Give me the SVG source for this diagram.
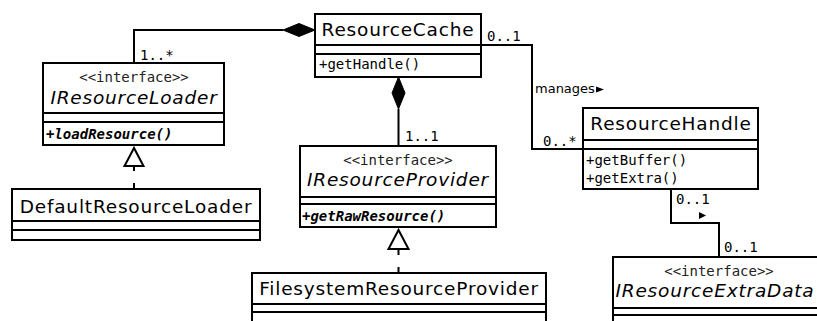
<svg xmlns="http://www.w3.org/2000/svg" width="817" height="321" viewBox="0 0 817 321">
<style>
.box{fill:#fff;stroke:#000;stroke-width:2}
.sep{stroke:#000;stroke-width:2}
.name{font-family:"DejaVu Sans",sans-serif;font-size:18.5px;letter-spacing:0.8px;text-anchor:middle;fill:#000}
.iname{font-family:"DejaVu Sans",sans-serif;font-size:18.5px;letter-spacing:0.8px;font-style:italic;text-anchor:middle;fill:#000}
.st{font-family:"DejaVu Sans Mono",monospace;font-size:14px;text-anchor:middle;fill:#222}
.op{font-family:"DejaVu Sans Mono",monospace;font-size:14px;fill:#000}
.aop{font-family:"DejaVu Sans Mono",monospace;font-size:14px;font-weight:bold;font-style:italic;fill:#000}
.lbl{font-family:"DejaVu Sans Mono",monospace;font-size:14px;fill:#000}
.as{font-family:"DejaVu Sans",sans-serif;font-size:13px;fill:#000}
.ln{fill:none;stroke:#000;stroke-width:2}
.dia{fill:#000;stroke:#000;stroke-width:1}
.tri{fill:#fff;stroke:#000;stroke-width:2}
</style>
<rect width="817" height="321" fill="#fff"/>
<g id="connectors">
  <polyline class="ln" points="134,63 134,30 283,30"/>
  <polygon class="dia" points="283,30 299,23.5 315,30 299,36.5"/>
  <text class="lbl" x="140" y="60">1..*</text>
  <line class="ln" x1="398.5" y1="109" x2="398.5" y2="146"/>
  <polygon class="dia" points="398.5,77 405,93 398.5,109 392,93"/>
  <text class="lbl" x="405" y="141">1..1</text>
  <polyline class="ln" points="481,45 532,45 532,149 583,149"/>
  <text class="lbl" x="487" y="41">0..1</text>
  <text class="as" x="535" y="93">manages</text>
  <polygon fill="#000" points="596,86.5 604,89.5 596,92.5"/>
  <text class="lbl" x="543" y="146">0..*</text>
  <polyline class="ln" points="671,189 671,223 719,223 719,257"/>
  <text class="lbl" x="676" y="204">0..1</text>
  <polygon fill="#000" points="699,212 706,215.5 699,219"/>
  <text class="lbl" x="724" y="252">0..1</text>
  <polygon class="tri" points="134,148 124.5,166 143.5,166"/>
  <line class="ln" x1="134" y1="166" x2="134" y2="189" stroke-dasharray="5 12 6"/>
  <polygon class="tri" points="398.5,230 388.5,249 408.5,249"/>
  <line class="ln" x1="398.5" y1="249" x2="398.5" y2="273" stroke-dasharray="6 12 6"/>
</g>
<g id="ResourceCache">
  <rect class="box" x="315" y="14" width="166" height="63"/>
  <line class="sep" x1="315" y1="45" x2="481" y2="45"/>
  <line class="sep" x1="315" y1="54" x2="481" y2="54"/>
  <text class="name" x="398" y="36">ResourceCache</text>
  <text class="op" x="319" y="69">+getHandle()</text>
</g>
<g id="IResourceLoader">
  <rect class="box" x="43" y="63" width="181" height="82"/>
  <line class="sep" x1="43" y1="113" x2="224" y2="113"/>
  <line class="sep" x1="43" y1="122" x2="224" y2="122"/>
  <text class="st" x="134" y="82">&lt;&lt;interface&gt;&gt;</text>
  <text class="iname" x="134" y="104">IResourceLoader</text>
  <text class="aop" x="46" y="139">+loadResource()</text>
</g>
<g id="DefaultResourceLoader">
  <rect class="box" x="12" y="189" width="248" height="51"/>
  <line class="sep" x1="12" y1="221" x2="260" y2="221"/>
  <line class="sep" x1="12" y1="230" x2="260" y2="230"/>
  <text class="name" x="136" y="213">DefaultResourceLoader</text>
</g>
<g id="IResourceProvider">
  <rect class="box" x="300" y="146" width="196" height="81"/>
  <line class="sep" x1="300" y1="197" x2="496" y2="197"/>
  <line class="sep" x1="300" y1="204" x2="496" y2="204"/>
  <text class="st" x="398" y="165">&lt;&lt;interface&gt;&gt;</text>
  <text class="iname" x="398" y="186">IResourceProvider</text>
  <text class="aop" x="302" y="221">+getRawResource()</text>
</g>
<g id="FilesystemResourceProvider">
  <rect class="box" x="252" y="273" width="294" height="60"/>
  <line class="sep" x1="252" y1="304" x2="546" y2="304"/>
  <line class="sep" x1="252" y1="312" x2="546" y2="312"/>
  <text class="name" x="399" y="295">FilesystemResourceProvider</text>
</g>
<g id="ResourceHandle">
  <rect class="box" x="583" y="108" width="175" height="81"/>
  <line class="sep" x1="583" y1="140" x2="758" y2="140"/>
  <line class="sep" x1="583" y1="149" x2="758" y2="149"/>
  <text class="name" x="671" y="130">ResourceHandle</text>
  <text class="op" x="586" y="165">+getBuffer()</text>
  <text class="op" x="586" y="183">+getExtra()</text>
</g>
<g id="IResourceExtraData">
  <rect class="box" x="613" y="257" width="212" height="80"/>
  <line class="sep" x1="613" y1="308" x2="825" y2="308"/>
  <line class="sep" x1="613" y1="315" x2="825" y2="315"/>
  <text class="st" x="719" y="276">&lt;&lt;interface&gt;&gt;</text>
  <text class="iname" x="715" y="297">IResourceExtraData</text>
</g>
</svg>
